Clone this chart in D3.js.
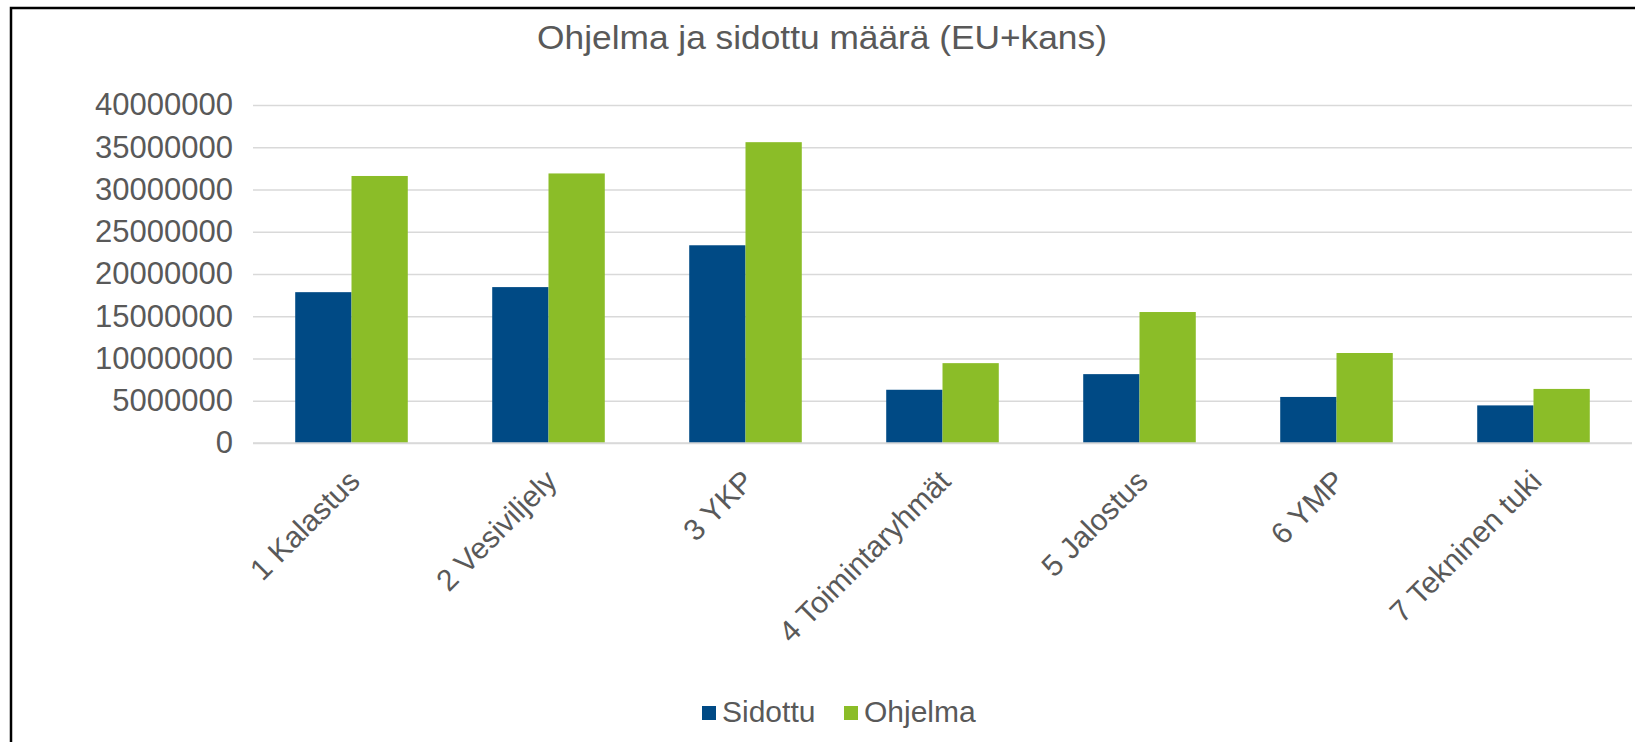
<!DOCTYPE html>
<html>
<head>
<meta charset="utf-8">
<script src="https://cdn.jsdelivr.net/npm/d3@7"></script>
<style>
  html, body { margin: 0; padding: 0; background: #fff; }
  svg { display: block; font-family: "Liberation Sans", Arial, sans-serif; }
</style>
</head>
<body>
<svg id="chart" width="1635" height="742"></svg>
<script>
// Toimintalinjat
const categories = ["1 Kalastus", "2 Vesiviljely", "3 YKP", "4 Toimintaryhmät", "5 Jalostus", "6 YMP", "7 Tekninen tuki"];
// Sidottu määrä (EU+kans), euroa
const sidottu = [17850000, 18450000, 23400000, 6300000, 8150000, 5450000, 4450000];
// Ohjelman määrä (EU+kans), euroa
const ohjelma = [31600000, 31900000, 35600000, 9450000, 15500000, 10650000, 6400000];
const seriesNames = ["Sidottu", "Ohjelma"];
const seriesColors = ["#004a85", "#8bbd28"];
const yTicks = [0, 5000000, 10000000, 15000000, 20000000, 25000000, 30000000, 35000000, 40000000];
const titleText = "Ohjelma ja sidottu määrä (EU+kans)";

const svg = d3.select("#chart");
const textColor = "#595959";
const gridColor = "#d9d9d9";

const margin = { left: 253, right: 3, top: 105, bottom: 299 };
const W = 1635, H = 742;

const x0 = d3.scaleBand().domain(categories).range([margin.left, W - margin.right]).paddingInner(0).paddingOuter(0);
const x1 = d3.scaleBand().domain(seriesNames).range([0, x0.bandwidth()]).paddingInner(0).paddingOuter(0.75);
const y = d3.scaleLinear().domain([0, 40000000]).range([H - margin.bottom, margin.top]);

// chart frame
svg.append("path")
  .attr("d", `M11,${H + 5} L11,8 L${W + 5},8`)
  .attr("fill", "none").attr("stroke", "#000").attr("stroke-width", 2.5);

// title
svg.append("text")
  .attr("transform", `translate(822,49) scale(1.07,1)`)
  .attr("text-anchor", "middle")
  .attr("font-size", 33)
  .attr("fill", textColor)
  .text(titleText);

// gridlines and value axis
const yAxis = d3.axisLeft(y).tickValues(yTicks).tickFormat(d3.format("d"))
  .tickSize(-(W - margin.right - margin.left)).tickPadding(20);
const gy = svg.append("g").attr("transform", `translate(${margin.left},0)`).call(yAxis);
gy.select(".domain").remove();
gy.selectAll(".tick line").attr("stroke", gridColor).attr("stroke-width", 1.5);
gy.selectAll(".tick text").attr("fill", textColor).attr("font-size", 31)
  .attr("font-family", "Liberation Sans, Arial, sans-serif");

// bars
const rows = categories.map((c, i) => ({ cat: c, vals: [sidottu[i], ohjelma[i]] }));
const groups = svg.append("g").selectAll("g").data(rows).join("g")
  .attr("transform", d => `translate(${x0(d.cat)},0)`);
groups.selectAll("rect").data(d => d.vals.map((v, j) => ({ key: seriesNames[j], v, j })))
  .join("rect")
  .attr("x", d => x1(d.key))
  .attr("width", x1.bandwidth())
  .attr("y", d => y(d.v))
  .attr("height", d => y(0) - y(d.v))
  .attr("fill", d => seriesColors[d.j]);

// category axis line
svg.append("line")
  .attr("x1", margin.left).attr("x2", W - margin.right)
  .attr("y1", y(0)).attr("y2", y(0))
  .attr("stroke", gridColor).attr("stroke-width", 1.5);

// category labels
const xAxis = d3.axisBottom(x0).tickSize(0).tickPadding(0);
const gx = svg.append("g").attr("transform", `translate(0,${y(0)})`).call(xAxis);
gx.select(".domain").remove();
gx.selectAll(".tick text")
  .attr("fill", textColor).attr("font-size", 30)
  .attr("font-family", "Liberation Sans, Arial, sans-serif")
  .attr("text-anchor", "end")
  .attr("dy", null).attr("y", null)
  .attr("transform", "translate(10,40) rotate(-45)");

// legend
const legend = svg.append("g").attr("transform", "translate(702,0)");
const legendItems = legend.selectAll("g").data(seriesNames).join("g")
  .attr("transform", (d, i) => `translate(${i * 142},0)`);
legendItems.append("rect").attr("x", 0).attr("y", 706).attr("width", 14).attr("height", 14)
  .attr("fill", (d, i) => seriesColors[i]);
legendItems.append("text").attr("x", 20).attr("y", 722)
  .attr("font-size", 30).attr("fill", textColor).text(d => d);
</script>
</body>
</html>
